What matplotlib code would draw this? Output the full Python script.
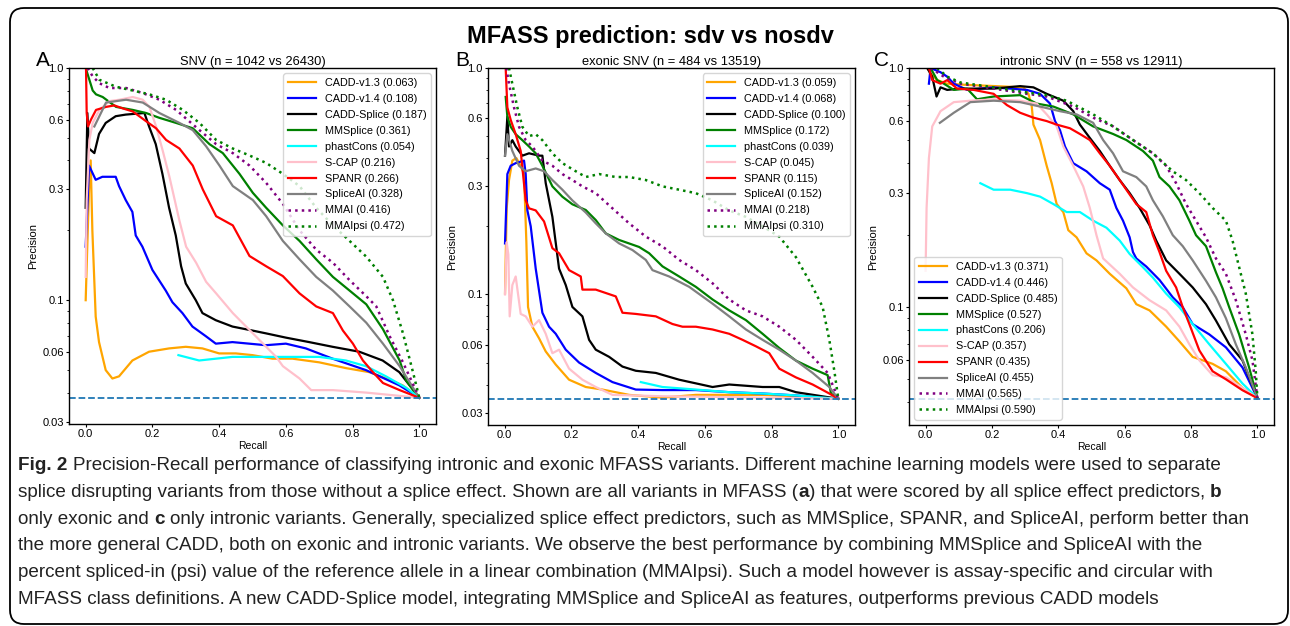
import matplotlib
matplotlib.use("Agg")
import matplotlib.pyplot as plt
from matplotlib.patches import FancyBboxPatch
from matplotlib.transforms import IdentityTransform
from matplotlib.ticker import NullFormatter

# ---------------------------------------------------------------- data
methods = ["CADD-v1.3", "CADD-v1.4", "CADD-Splice", "MMSplice", "phastCons",
           "S-CAP", "SPANR", "SpliceAI", "MMAI", "MMAIpsi"]

snv_counts = (1042, 26430)
exonic_counts = (484, 13519)
intronic_counts = (558, 12911)

snv_auc = [0.063, 0.108, 0.187, 0.361, 0.054, 0.216, 0.266, 0.328, 0.416, 0.472]
exonic_auc = [0.059, 0.068, 0.100, 0.172, 0.039, 0.045, 0.115, 0.152, 0.218, 0.310]
intronic_auc = [0.371, 0.446, 0.485, 0.527, 0.206, 0.357, 0.435, 0.455, 0.565, 0.590]

# (recall, precision)
snv_cadd13 = [(0.0, 0.10), (0.003, 0.14), (0.010, 0.30), (0.015, 0.40), (0.02, 0.20), (0.03, 0.085),
              (0.04, 0.066), (0.06, 0.050), (0.08, 0.046), (0.10, 0.047), (0.14, 0.055), (0.19, 0.060),
              (0.25, 0.062), (0.30, 0.063), (0.35, 0.062), (0.40, 0.059), (0.45, 0.059), (0.50, 0.058),
              (0.56, 0.056), (0.62, 0.056), (0.70, 0.054), (0.78, 0.051), (0.85, 0.049), (0.90, 0.046),
              (0.95, 0.043), (1.0, 0.038)]
snv_cadd14 = [(0.0, 0.17), (0.01, 0.38), (0.03, 0.33), (0.05, 0.34), (0.09, 0.34), (0.10, 0.31),
              (0.12, 0.27), (0.14, 0.24), (0.15, 0.19), (0.17, 0.17), (0.20, 0.135), (0.24, 0.11),
              (0.26, 0.098), (0.29, 0.088), (0.32, 0.077), (0.36, 0.070), (0.39, 0.065), (0.44, 0.066),
              (0.54, 0.064), (0.60, 0.065), (0.66, 0.062), (0.74, 0.056), (0.84, 0.050), (0.94, 0.043),
              (1.0, 0.038)]
snv_caddsplice = [(0.0, 0.25), (0.005, 0.64), (0.01, 0.45), (0.026, 0.43), (0.04, 0.52), (0.06, 0.58),
                  (0.09, 0.62), (0.12, 0.63), (0.176, 0.64), (0.19, 0.56), (0.21, 0.47), (0.23, 0.35),
                  (0.25, 0.25), (0.27, 0.19), (0.286, 0.14), (0.30, 0.118), (0.33, 0.10), (0.35, 0.088),
                  (0.39, 0.082), (0.44, 0.077), (0.50, 0.074), (0.54, 0.072), (0.60, 0.069), (0.67, 0.066),
                  (0.74, 0.063), (0.82, 0.060), (0.89, 0.055), (0.94, 0.049), (1.0, 0.038)]
snv_mmsplice = [(0.0, 1.0), (0.011, 0.89), (0.021, 0.80), (0.031, 0.77), (0.051, 0.75), (0.091, 0.68),
                (0.141, 0.66), (0.181, 0.64), (0.221, 0.61), (0.271, 0.58), (0.321, 0.55), (0.371, 0.47),
                (0.411, 0.43), (0.461, 0.35), (0.501, 0.29), (0.541, 0.25), (0.591, 0.21), (0.641, 0.18),
                (0.691, 0.15), (0.741, 0.126), (0.791, 0.11), (0.841, 0.096), (0.891, 0.075), (0.941, 0.055),
                (0.961, 0.045), (1.0, 0.038)]
snv_phastcons = [(0.278, 0.058), (0.34, 0.055), (0.44, 0.057), (0.54, 0.057), (0.64, 0.057), (0.70, 0.057),
                 (0.78, 0.055), (0.84, 0.052), (0.90, 0.047), (0.96, 0.042), (1.0, 0.038)]
snv_scap = [(0.0, 0.126), (0.003, 0.27), (0.011, 0.49), (0.021, 0.58), (0.041, 0.66), (0.071, 0.72),
            (0.101, 0.73), (0.141, 0.75), (0.171, 0.73), (0.191, 0.68), (0.211, 0.56), (0.231, 0.44),
            (0.251, 0.34), (0.281, 0.22), (0.301, 0.17), (0.331, 0.145), (0.361, 0.12), (0.391, 0.107),
            (0.441, 0.088), (0.501, 0.072), (0.541, 0.063), (0.571, 0.057), (0.591, 0.052), (0.641, 0.046),
            (0.676, 0.041), (0.741, 0.041), (0.841, 0.040), (1.0, 0.038)]
snv_spanr = [(0.001, 1.0), (0.003, 0.64), (0.007, 0.56), (0.016, 0.60), (0.031, 0.66), (0.061, 0.68),
             (0.086, 0.69), (0.111, 0.67), (0.141, 0.65), (0.181, 0.59), (0.211, 0.55), (0.241, 0.49),
             (0.281, 0.45), (0.321, 0.38), (0.351, 0.30), (0.391, 0.23), (0.441, 0.21), (0.491, 0.155),
             (0.541, 0.14), (0.591, 0.127), (0.641, 0.107), (0.691, 0.094), (0.741, 0.088), (0.771, 0.074),
             (0.801, 0.065), (0.831, 0.055), (0.861, 0.049), (0.891, 0.044), (0.941, 0.041), (1.0, 0.038)]
snv_spliceai = [(0.026, 0.56), (0.061, 0.71), (0.121, 0.73), (0.171, 0.71), (0.221, 0.64), (0.281, 0.58),
                (0.321, 0.54), (0.361, 0.46), (0.401, 0.38), (0.441, 0.31), (0.501, 0.27), (0.541, 0.23),
                (0.591, 0.18), (0.641, 0.15), (0.691, 0.126), (0.741, 0.11), (0.791, 0.094), (0.841, 0.08),
                (0.891, 0.065), (0.941, 0.052), (1.0, 0.038)]
snv_mmai = [(0.006, 1.0), (0.021, 0.92), (0.041, 0.86), (0.071, 0.82), (0.121, 0.82), (0.171, 0.78),
            (0.221, 0.73), (0.271, 0.66), (0.341, 0.54), (0.391, 0.47), (0.441, 0.43), (0.491, 0.38),
            (0.541, 0.32), (0.591, 0.26), (0.641, 0.20), (0.691, 0.165), (0.741, 0.145), (0.791, 0.122),
            (0.841, 0.104), (0.871, 0.094), (0.911, 0.07), (0.951, 0.054), (1.0, 0.038)]
snv_mmaipsi = [(0.021, 1.0), (0.041, 0.89), (0.091, 0.83), (0.141, 0.80), (0.191, 0.77), (0.241, 0.73),
               (0.291, 0.66), (0.341, 0.58), (0.391, 0.49), (0.441, 0.45), (0.491, 0.42), (0.541, 0.39),
               (0.591, 0.35), (0.641, 0.31), (0.691, 0.25), (0.741, 0.21), (0.791, 0.18), (0.841, 0.154),
               (0.891, 0.126), (0.921, 0.10), (0.951, 0.072), (0.981, 0.049), (1.0, 0.038)]

exonic_cadd13 = [(0.001, 0.101), (0.006, 0.24), (0.013, 0.32), (0.023, 0.39), (0.035, 0.40), (0.048, 0.37),
                 (0.058, 0.34), (0.065, 0.17), (0.07, 0.088), (0.083, 0.072), (0.103, 0.064), (0.123, 0.056),
                 (0.153, 0.049), (0.193, 0.042), (0.243, 0.039), (0.293, 0.038), (0.373, 0.036), (0.473, 0.035),
                 (0.573, 0.036), (0.773, 0.036), (0.873, 0.0355), (1.0, 0.0346)]
exonic_cadd14 = [(0.001, 0.168), (0.008, 0.34), (0.018, 0.37), (0.033, 0.38), (0.058, 0.39), (0.063, 0.34),
                 (0.068, 0.235), (0.078, 0.20), (0.093, 0.13), (0.113, 0.083), (0.133, 0.072), (0.153, 0.067),
                 (0.183, 0.057), (0.223, 0.050), (0.273, 0.045), (0.323, 0.041), (0.393, 0.038), (0.473, 0.0378),
                 (0.573, 0.0378), (0.673, 0.037), (0.773, 0.0365), (0.873, 0.0358), (1.0, 0.0346)]
exonic_caddsplice = [(0.001, 0.41), (0.008, 0.61), (0.013, 0.45), (0.023, 0.48), (0.033, 0.45), (0.053, 0.41),
                     (0.073, 0.42), (0.103, 0.41), (0.113, 0.41), (0.123, 0.31), (0.143, 0.22), (0.163, 0.13),
                     (0.183, 0.11), (0.203, 0.088), (0.233, 0.08), (0.253, 0.063), (0.273, 0.057), (0.313, 0.053),
                     (0.353, 0.048), (0.393, 0.046), (0.453, 0.045), (0.523, 0.042), (0.623, 0.039), (0.673, 0.040),
                     (0.773, 0.039), (0.823, 0.039), (0.873, 0.037), (1.0, 0.0346)]
exonic_mmsplice = [(0.003, 0.745), (0.008, 0.61), (0.018, 0.55), (0.033, 0.51), (0.053, 0.48), (0.073, 0.45),
                   (0.093, 0.42), (0.113, 0.37), (0.143, 0.30), (0.173, 0.27), (0.203, 0.25), (0.243, 0.236),
                   (0.273, 0.213), (0.303, 0.186), (0.343, 0.174), (0.403, 0.162), (0.433, 0.152), (0.473, 0.133),
                   (0.523, 0.12), (0.573, 0.108), (0.623, 0.095), (0.673, 0.085), (0.723, 0.077), (0.773, 0.067),
                   (0.823, 0.058), (0.873, 0.051), (0.923, 0.047), (0.968, 0.044), (0.978, 0.0365), (1.0, 0.0346)]
exonic_phastcons = [(0.408, 0.041), (0.473, 0.039), (0.573, 0.038), (0.673, 0.037), (0.773, 0.0365),
                    (0.873, 0.0358), (1.0, 0.0346)]
exonic_scap = [(0.001, 0.10), (0.006, 0.17), (0.011, 0.15), (0.015, 0.08), (0.023, 0.11), (0.033, 0.12),
               (0.048, 0.082), (0.063, 0.08), (0.083, 0.072), (0.103, 0.077), (0.123, 0.067), (0.143, 0.055),
               (0.163, 0.057), (0.193, 0.047), (0.233, 0.042), (0.273, 0.039), (0.323, 0.036), (0.473, 0.0355),
               (0.673, 0.0352), (1.0, 0.0346)]
exonic_spanr = [(0.003, 1.0), (0.008, 0.67), (0.018, 0.59), (0.033, 0.51), (0.048, 0.43), (0.063, 0.26),
                (0.073, 0.24), (0.093, 0.235), (0.118, 0.21), (0.143, 0.16), (0.163, 0.152), (0.193, 0.128),
                (0.228, 0.12), (0.233, 0.105), (0.273, 0.105), (0.333, 0.098), (0.353, 0.083), (0.393, 0.082),
                (0.453, 0.080), (0.503, 0.074), (0.533, 0.072), (0.573, 0.072), (0.623, 0.070), (0.673, 0.067),
                (0.713, 0.063), (0.753, 0.059), (0.793, 0.055), (0.823, 0.047), (0.873, 0.043), (0.923, 0.040),
                (0.973, 0.0365), (1.0, 0.0346)]
exonic_spliceai = [(0.001, 0.41), (0.008, 0.51), (0.023, 0.43), (0.043, 0.37), (0.063, 0.35), (0.093, 0.36),
                   (0.118, 0.35), (0.143, 0.32), (0.173, 0.29), (0.203, 0.26), (0.243, 0.23), (0.273, 0.206),
                   (0.303, 0.186), (0.343, 0.168), (0.383, 0.157), (0.423, 0.142), (0.443, 0.128), (0.493, 0.12),
                   (0.553, 0.108), (0.623, 0.091), (0.673, 0.080), (0.723, 0.070), (0.773, 0.063), (0.823, 0.057),
                   (0.873, 0.051), (0.923, 0.045), (0.973, 0.039), (1.0, 0.0346)]
exonic_mmai = [(0.005, 1.0), (0.013, 0.85), (0.028, 0.67), (0.043, 0.55), (0.063, 0.48), (0.083, 0.45),
               (0.113, 0.39), (0.143, 0.37), (0.173, 0.34), (0.203, 0.32), (0.233, 0.30), (0.273, 0.28),
               (0.323, 0.24), (0.373, 0.206), (0.423, 0.18), (0.473, 0.163), (0.523, 0.142), (0.573, 0.128),
               (0.623, 0.112), (0.673, 0.095), (0.723, 0.085), (0.773, 0.080), (0.823, 0.072), (0.873, 0.063),
               (0.923, 0.053), (0.968, 0.045), (1.0, 0.0346)]
exonic_mmaipsi = [(0.013, 1.0), (0.023, 0.85), (0.038, 0.67), (0.053, 0.55), (0.073, 0.50), (0.093, 0.51),
                  (0.113, 0.48), (0.143, 0.42), (0.173, 0.38), (0.213, 0.35), (0.243, 0.33), (0.283, 0.34),
                  (0.333, 0.33), (0.373, 0.33), (0.423, 0.32), (0.473, 0.30), (0.523, 0.29), (0.573, 0.28),
                  (0.623, 0.26), (0.673, 0.235), (0.723, 0.22), (0.773, 0.20), (0.823, 0.18), (0.873, 0.146),
                  (0.923, 0.108), (0.953, 0.088), (0.973, 0.063), (0.988, 0.046), (1.0, 0.0346)]

intronic_cadd13 = [(0.005, 1.0), (0.015, 0.95), (0.035, 0.89), (0.065, 0.86), (0.125, 0.85), (0.295, 0.83),
                   (0.31, 0.78), (0.32, 0.69), (0.325, 0.58), (0.345, 0.50), (0.365, 0.39), (0.38, 0.33),
                   (0.395, 0.27), (0.415, 0.25), (0.43, 0.21), (0.455, 0.196), (0.485, 0.168), (0.515, 0.157),
                   (0.555, 0.138), (0.605, 0.12), (0.635, 0.103), (0.675, 0.097), (0.725, 0.083), (0.765, 0.072),
                   (0.805, 0.062), (0.835, 0.060), (0.865, 0.058), (0.905, 0.054), (0.955, 0.046), (1.0, 0.0417)]
intronic_cadd14 = [(0.01, 0.86), (0.015, 1.0), (0.045, 0.96), (0.065, 0.92), (0.085, 0.86), (0.125, 0.81),
                   (0.205, 0.83), (0.305, 0.81), (0.345, 0.78), (0.375, 0.71), (0.39, 0.60), (0.405, 0.55),
                   (0.42, 0.47), (0.445, 0.40), (0.485, 0.37), (0.525, 0.33), (0.555, 0.31), (0.575, 0.26),
                   (0.595, 0.23), (0.615, 0.196), (0.625, 0.17), (0.635, 0.16), (0.665, 0.148), (0.705, 0.13),
                   (0.745, 0.11), (0.775, 0.10), (0.805, 0.085), (0.855, 0.077), (0.905, 0.068), (0.955, 0.056),
                   (1.0, 0.0417)]
intronic_caddsplice = [(0.005, 1.0), (0.02, 0.92), (0.033, 0.76), (0.045, 0.83), (0.065, 0.81), (0.105, 0.82),
                       (0.205, 0.82), (0.285, 0.84), (0.325, 0.83), (0.365, 0.78), (0.415, 0.73), (0.445, 0.66),
                       (0.465, 0.58), (0.495, 0.51), (0.525, 0.45), (0.555, 0.39), (0.585, 0.34), (0.615, 0.30),
                       (0.645, 0.26), (0.675, 0.22), (0.695, 0.19), (0.725, 0.157), (0.765, 0.138), (0.805, 0.121),
                       (0.845, 0.103), (0.875, 0.088), (0.915, 0.070), (0.955, 0.060), (1.0, 0.0417)]
intronic_mmsplice = [(0.015, 1.0), (0.035, 0.89), (0.055, 0.86), (0.085, 0.81), (0.125, 0.82), (0.155, 0.74),
                     (0.205, 0.76), (0.285, 0.77), (0.335, 0.71), (0.385, 0.69), (0.445, 0.64), (0.505, 0.57),
                     (0.565, 0.53), (0.605, 0.50), (0.655, 0.45), (0.685, 0.41), (0.705, 0.35), (0.735, 0.32),
                     (0.765, 0.28), (0.795, 0.23), (0.815, 0.20), (0.845, 0.18), (0.875, 0.14), (0.895, 0.12),
                     (0.915, 0.10), (0.945, 0.077), (0.975, 0.056), (1.0, 0.0417)]
intronic_phastcons = [(0.165, 0.33), (0.205, 0.31), (0.255, 0.31), (0.305, 0.30), (0.345, 0.29), (0.385, 0.27),
                      (0.425, 0.25), (0.465, 0.25), (0.505, 0.23), (0.545, 0.215), (0.585, 0.19), (0.615, 0.167),
                      (0.655, 0.147), (0.685, 0.133), (0.725, 0.114), (0.765, 0.10), (0.805, 0.085), (0.855, 0.070),
                      (0.905, 0.058), (0.955, 0.048), (1.0, 0.0417)]
intronic_scap = [(0.0, 0.142), (0.003, 0.26), (0.01, 0.42), (0.02, 0.57), (0.045, 0.66), (0.085, 0.72),
                 (0.135, 0.73), (0.205, 0.74), (0.285, 0.73), (0.335, 0.71), (0.365, 0.64), (0.395, 0.57),
                 (0.415, 0.47), (0.445, 0.39), (0.475, 0.32), (0.495, 0.26), (0.515, 0.20), (0.535, 0.16),
                 (0.585, 0.138), (0.625, 0.121), (0.675, 0.107), (0.725, 0.097), (0.765, 0.083), (0.795, 0.070),
                 (0.825, 0.060), (0.865, 0.052), (0.905, 0.051), (0.955, 0.046), (1.0, 0.0417)]
intronic_spanr = [(0.01, 1.0), (0.02, 0.89), (0.045, 0.86), (0.065, 0.89), (0.095, 0.82), (0.145, 0.81),
                  (0.205, 0.78), (0.245, 0.70), (0.285, 0.65), (0.325, 0.62), (0.365, 0.60), (0.395, 0.58),
                  (0.435, 0.56), (0.465, 0.53), (0.495, 0.50), (0.525, 0.44), (0.555, 0.39), (0.585, 0.34),
                  (0.605, 0.31), (0.635, 0.27), (0.665, 0.25), (0.685, 0.20), (0.705, 0.17), (0.725, 0.142),
                  (0.755, 0.121), (0.775, 0.10), (0.795, 0.085), (0.825, 0.066), (0.865, 0.054), (0.905, 0.050),
                  (0.955, 0.045), (1.0, 0.0417)]
intronic_spliceai = [(0.043, 0.59), (0.085, 0.65), (0.135, 0.72), (0.205, 0.73), (0.285, 0.72), (0.345, 0.69),
                     (0.405, 0.66), (0.455, 0.64), (0.505, 0.59), (0.535, 0.50), (0.565, 0.44), (0.595, 0.37),
                     (0.635, 0.35), (0.665, 0.32), (0.685, 0.28), (0.715, 0.24), (0.745, 0.20), (0.775, 0.18),
                     (0.805, 0.157), (0.845, 0.129), (0.875, 0.11), (0.905, 0.090), (0.935, 0.070), (0.965, 0.056),
                     (1.0, 0.0417)]
intronic_mmai = [(0.015, 1.0), (0.055, 0.92), (0.105, 0.86), (0.205, 0.82), (0.305, 0.78), (0.365, 0.76),
                 (0.445, 0.69), (0.505, 0.62), (0.565, 0.57), (0.625, 0.50), (0.685, 0.44), (0.725, 0.39),
                 (0.755, 0.33), (0.785, 0.27), (0.815, 0.23), (0.845, 0.196), (0.875, 0.16), (0.905, 0.138),
                 (0.935, 0.107), (0.965, 0.077), (0.985, 0.060), (1.0, 0.0417)]
intronic_mmaipsi = [(0.035, 1.0), (0.065, 0.92), (0.105, 0.87), (0.205, 0.83), (0.305, 0.79), (0.365, 0.77),
                    (0.425, 0.73), (0.505, 0.64), (0.565, 0.57), (0.625, 0.50), (0.685, 0.44), (0.745, 0.37),
                    (0.785, 0.34), (0.825, 0.30), (0.865, 0.26), (0.905, 0.23), (0.925, 0.19), (0.945, 0.147),
                    (0.965, 0.114), (0.985, 0.077), (0.995, 0.054), (1.0, 0.0417)]

panels = [
    ("A", "SNV", snv_counts, snv_auc,
     [snv_cadd13, snv_cadd14, snv_caddsplice, snv_mmsplice, snv_phastcons,
      snv_scap, snv_spanr, snv_spliceai, snv_mmai, snv_mmaipsi], "upper right"),
    ("B", "exonic SNV", exonic_counts, exonic_auc,
     [exonic_cadd13, exonic_cadd14, exonic_caddsplice, exonic_mmsplice, exonic_phastcons,
      exonic_scap, exonic_spanr, exonic_spliceai, exonic_mmai, exonic_mmaipsi], "upper right"),
    ("C", "intronic SNV", intronic_counts, intronic_auc,
     [intronic_cadd13, intronic_cadd14, intronic_caddsplice, intronic_mmsplice, intronic_phastcons,
      intronic_scap, intronic_spanr, intronic_spliceai, intronic_mmai, intronic_mmaipsi], "lower left"),
]

caption_lines = [
    [("Fig. 2", True), (" Precision-Recall performance of classifying intronic and exonic MFASS variants. "
                        "Different machine learning models were used to separate", False)],
    [("splice disrupting variants from those without a splice effect. Shown are all variants in MFASS (", False),
     ("a", True), (") that were scored by all splice effect predictors, ", False), ("b", True)],
    [("only exonic and ", False), ("c", True),
     (" only intronic variants. Generally, specialized splice effect predictors, such as MMSplice, "
      "SPANR, and SpliceAI, perform better than", False)],
    [("the more general CADD, both on exonic and intronic variants. We observe the best performance "
      "by combining MMSplice and SpliceAI with the", False)],
    [("percent spliced-in (psi) value of the reference allele in a linear combination (MMAIpsi). "
      "Such a model however is assay-specific and circular with", False)],
    [("MFASS class definitions. A new CADD-Splice model, integrating MMSplice and SpliceAI as features, "
      "outperforms previous CADD models", False)],
]

# ---------------------------------------------------------------- style
colors = ["orange", "blue", "black", "green", "cyan", "pink", "red", "grey", "purple", "green"]
styles = ["-"] * 8 + [":", ":"]

W, H = 1290, 626
plt.rcParams["font.family"] = ["Liberation Sans", "DejaVu Sans"]

fig = plt.figure(figsize=(W / 100, H / 100), dpi=100)

# axes boxes in pixels: left, right, top, bottom, lower y-limit
boxes = [(69, 436, 68, 424, 0.0293), (488, 855, 68, 425, 0.0265), (909, 1274, 68, 425, 0.0322)]
letter_x = [36, 455, 874]

for (letter, name, counts, auc, curves, loc), (l, r, t, b, ylo), lx in zip(panels, boxes, letter_x):
    ax = fig.add_axes([l / W, 1 - b / H, (r - l) / W, (b - t) / H])
    for meth, a, pts, c, ls in zip(methods, auc, curves, colors, styles):
        rec = [p[0] for p in pts]
        prec = [p[1] for p in pts]
        lw = 1.6 if ls == "-" else 1.8
        ax.plot(rec, prec, color=c, ls=ls, lw=lw, label=f"{meth} ({a:.3f})")
    base = counts[0] / (counts[0] + counts[1])
    ax.axhline(base, ls="--", color="#1f77b4", lw=1.3)
    ax.set_yscale("log")
    ax.set_xlim(-0.05, 1.05)
    ax.set_ylim(ylo, 1.0)
    yt = [t_ for t_ in [0.03, 0.06, 0.1, 0.3, 0.6, 1.0] if t_ >= ylo]
    ax.set_yticks(yt)
    ax.set_yticklabels([f"{v:g}" if v != 1.0 else "1.0" for v in yt])
    ax.yaxis.set_minor_formatter(NullFormatter())
    ax.set_xticks([0, 0.2, 0.4, 0.6, 0.8, 1.0])
    ax.set_xticklabels(["0.0", "0.2", "0.4", "0.6", "0.8", "1.0"])
    ax.tick_params(which="major", labelsize=8, length=2.2, width=0.8, pad=1.5)
    ax.tick_params(which="minor", length=1.4, width=0.6)
    for sp in ax.spines.values():
        sp.set_linewidth(1.0)
    ax.set_xlabel("Recall", fontsize=7.5, labelpad=1)
    ax.set_ylabel("Precision", fontsize=8, labelpad=3)
    ax.set_title(f"{name} (n = {counts[0]} vs {counts[1]})", fontsize=9.3, pad=2)
    ax.legend(loc=loc, fontsize=7.8, handlelength=2.6, labelspacing=0.55)
    fig.text(lx / W, 1 - 66 / H, letter, fontsize=15, va="baseline")

fig.text(650 / W, 1 - 43 / H, "MFASS prediction: sdv vs nosdv", ha="center", va="baseline",
         fontsize=17, fontweight="bold")

# rounded frame round the whole figure
frame = FancyBboxPatch((10, H - 624), 1278, 616, boxstyle="round,pad=0,rounding_size=14",
                       transform=IdentityTransform(), fill=False, ec="black", lw=1.3)
fig.add_artist(frame)

# caption, drawn piece by piece so bold parts sit inline
cap_family = ["Liberation Sans", "DejaVu Sans"]
cap_size = 13.6
renderer = fig.canvas.get_renderer()


def text_width(s, bold):
    t = fig.text(0, 0, s, fontsize=cap_size, family=cap_family,
                 fontweight="bold" if bold else "normal")
    w = t.get_window_extent(renderer).width
    t.remove()
    return w


space_w = {b: text_width("x x", b) - text_width("xx", b) for b in (False, True)}

for i, line in enumerate(caption_lines):
    x = 18
    y = 466 + i * 26.6
    for txt, bold in line:
        lead = len(txt) - len(txt.lstrip(" "))
        trail = len(txt) - len(txt.rstrip(" "))
        x += lead * space_w[bold]
        t = fig.text(x / W, 1 - y / H, txt.strip(" "), fontsize=cap_size, family=cap_family,
                     fontweight="bold" if bold else "normal", va="center", color="#222222")
        x += t.get_window_extent(renderer).width + trail * space_w[bold]

fig.savefig("out.png", dpi=100)
